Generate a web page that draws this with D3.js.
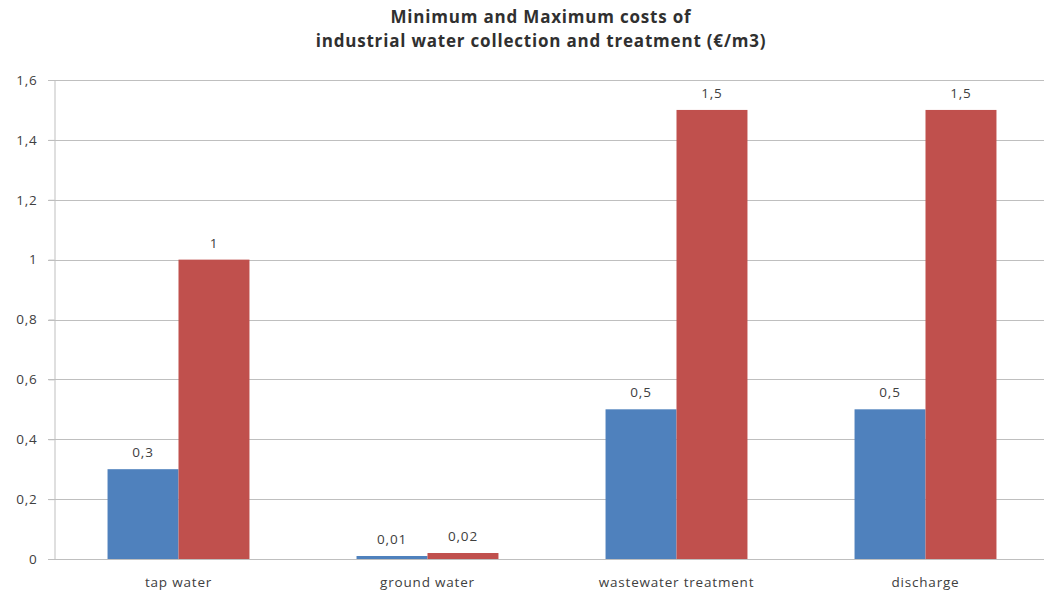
<!DOCTYPE html>
<html><head><meta charset="utf-8">
<script src="https://cdn.jsdelivr.net/npm/d3@7"></script>
<style>body{margin:0;background:#fff}svg{display:block}</style>
</head><body>
<svg id="c" width="1044" height="594"></svg>
<script>
const categories = ["tap water", "ground water", "wastewater treatment", "discharge"];
const series = ["Minimum", "Maximum"];
const minValues = [0.3, 0.01, 0.5, 0.5];
const maxValues = [1, 0.02, 1.5, 1.5];
const yTicks = [0, 0.2, 0.4, 0.6, 0.8, 1.0, 1.2, 1.4, 1.6];
const titleLines = ["Minimum and Maximum costs of", "industrial water collection and treatment (€/m3)"];
const colors = ["#4F81BD", "#C0504D"];

const svg = d3.select("#c");
const fmt = v => String(+v.toFixed(2)).replace(".", ",");
const font = "'Open Sans', 'Liberation Sans', sans-serif";

const x0 = d3.scaleBand().domain(categories).range([54, 1050]).paddingInner(0.43).paddingOuter(0.215);
const x1 = d3.scaleBand().domain(series).range([0, x0.bandwidth()]);
const y = d3.scaleLinear().domain([0, 1.6]).range([559, 80]);

// gridlines
svg.append("g").selectAll("line").data(yTicks).join("line")
  .attr("x1", 48).attr("x2", 1050)
  .attr("y1", d => Math.round(y(d)) + 0.5).attr("y2", d => Math.round(y(d)) + 0.5)
  .attr("stroke", "#bfbfbf").attr("stroke-width", 1);

// y axis
const ya = svg.append("g").attr("transform", "translate(54.5,0)")
  .call(d3.axisLeft(y).tickValues(yTicks).tickFormat(fmt).tickSize(6).tickPadding(11));
ya.select(".domain").attr("stroke", "#bfbfbf");
ya.selectAll(".tick line").attr("stroke", "#bfbfbf");
ya.selectAll("text").attr("font-family", font).attr("font-size", 13.5)
  .attr("letter-spacing", 0.8).attr("fill", "#404040");

// bars
const data = categories.map((c, i) => ({c, vals: [minValues[i], maxValues[i]]}));
const groups = svg.append("g").selectAll("g").data(data).join("g")
  .attr("transform", d => `translate(${x0(d.c)},0)`);
groups.selectAll("rect").data(d => d.vals.map((v, j) => ({s: series[j], v, j}))).join("rect")
  .attr("x", d => x1(d.s)).attr("width", x1.bandwidth())
  .attr("y", d => y(d.v)).attr("height", d => y(0) - y(d.v))
  .attr("fill", d => colors[d.j]);
groups.selectAll("text").data(d => d.vals.map((v, j) => ({s: series[j], v, j}))).join("text")
  .attr("x", d => x1(d.s) + x1.bandwidth() / 2).attr("y", d => y(d.v) - 12)
  .attr("text-anchor", "middle").attr("font-family", font).attr("font-size", 13.5)
  .attr("letter-spacing", 0.8).attr("fill", "#404040").text(d => fmt(d.v));

// x axis labels
svg.append("g").selectAll("text").data(categories).join("text")
  .attr("x", d => x0(d) + x0.bandwidth() / 2).attr("y", 587)
  .attr("text-anchor", "middle").attr("font-family", font).attr("font-size", 13.5)
  .attr("letter-spacing", 0.8).attr("fill", "#404040").text(d => d);

// title
svg.append("g").selectAll("text").data(titleLines).join("text")
  .attr("x", 541).attr("y", (d, i) => 23 + i * 24)
  .attr("text-anchor", "middle").attr("font-family", font).attr("font-size", 17)
  .attr("letter-spacing", 0.8).attr("font-weight", "bold").attr("fill", "#303030").text(d => d);
</script>
</body></html>
